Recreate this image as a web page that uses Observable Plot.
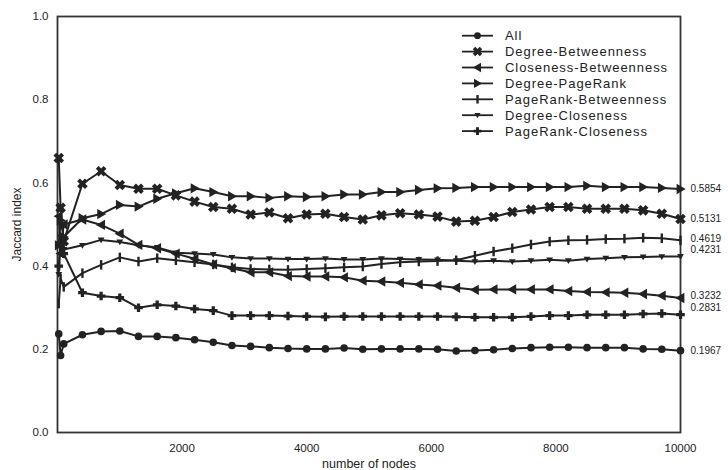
<!DOCTYPE html>
<html><head><meta charset="utf-8">
<script src="https://cdn.jsdelivr.net/npm/d3@7"></script>
<script src="https://cdn.jsdelivr.net/npm/@observablehq/plot@0.6"></script>
<style>body{margin:0;background:#fff;font-family:"Liberation Sans",Arial,sans-serif} #chart svg{display:block}</style>
</head><body><div id="chart"></div><script>
const nodes = [20,50,100,400,700,1000,1300,1600,1900,2200,2500,2800,3100,3400,3700,4000,4300,4600,4900,5200,5500,5800,6100,6400,6700,7000,7300,7600,7900,8200,8500,8800,9100,9400,9700,10000];
const seriesNames = ["All","Degree-Betweenness","Closeness-Betweenness","Degree-PageRank","PageRank-Betweenness","Degree-Closeness","PageRank-Closeness"];
const all = [0.237,0.185,0.213,0.235,0.243,0.244,0.231,0.231,0.228,0.223,0.217,0.209,0.207,0.204,0.202,0.201,0.201,0.203,0.200,0.201,0.201,0.201,0.200,0.196,0.197,0.199,0.202,0.204,0.205,0.205,0.204,0.204,0.204,0.201,0.200,0.1967];
const degBet = [0.66,0.54,0.46,0.598,0.628,0.595,0.586,0.586,0.570,0.555,0.542,0.538,0.524,0.529,0.515,0.524,0.526,0.518,0.512,0.522,0.527,0.524,0.519,0.507,0.509,0.518,0.530,0.536,0.542,0.542,0.538,0.538,0.538,0.534,0.526,0.5131];
const cloBet = [0.52,0.43,0.50,0.512,0.499,0.478,0.451,0.443,0.430,0.4175,0.404,0.395,0.385,0.385,0.376,0.375,0.375,0.373,0.365,0.363,0.360,0.356,0.353,0.348,0.343,0.344,0.344,0.344,0.344,0.340,0.338,0.337,0.336,0.333,0.329,0.3232];
const degPR = [0.45,0.51,0.47,0.515,0.525,0.547,0.543,0.562,0.575,0.587,0.578,0.568,0.568,0.564,0.568,0.566,0.568,0.572,0.572,0.578,0.578,0.583,0.587,0.588,0.590,0.590,0.590,0.590,0.590,0.590,0.593,0.590,0.590,0.590,0.588,0.5854];
const prBet = [0.31,0.37,0.35,0.383,0.403,0.421,0.411,0.419,0.414,0.409,0.404,0.397,0.393,0.392,0.391,0.393,0.395,0.397,0.399,0.405,0.409,0.411,0.412,0.414,0.425,0.435,0.443,0.452,0.459,0.462,0.463,0.465,0.466,0.468,0.467,0.4619];
const degClo = [0.38,0.47,0.44,0.450,0.463,0.458,0.450,0.445,0.432,0.430,0.428,0.421,0.418,0.418,0.417,0.417,0.418,0.416,0.416,0.418,0.417,0.416,0.415,0.413,0.411,0.413,0.411,0.413,0.415,0.413,0.417,0.419,0.421,0.422,0.423,0.4231];
const prClo = [0.40,0.45,0.43,0.336,0.328,0.324,0.300,0.307,0.304,0.297,0.293,0.281,0.281,0.281,0.280,0.279,0.278,0.279,0.279,0.279,0.279,0.279,0.279,0.278,0.277,0.277,0.277,0.279,0.281,0.281,0.283,0.283,0.283,0.285,0.286,0.2831];
const xTicks = [2000,4000,6000,8000,10000];
const yTicks = [0,0.2,0.4,0.6,0.8,1.0];

const values = [all,degBet,cloBet,degPR,prBet,degClo,prClo];
const rows = [];
seriesNames.forEach((s,i)=>values[i].forEach((v,j)=>rows.push({series:s,n:nodes[j],v})));
const finals = seriesNames.map((s,i)=>({series:s,n:nodes[nodes.length-1],v:values[i][values[i].length-1]}));
// end-label nudges (pixels) to keep close labels apart
const nudge = {"PageRank-Betweenness":-2,"Degree-Closeness":-7,"Closeness-Betweenness":-2,"PageRank-Closeness":-7};

// custom marker symbols
const rad = s => Math.sqrt(s/Math.PI);
function poly(c, pts, rot=0){
  const ca=Math.cos(rot), sa=Math.sin(rot);
  pts.forEach(([x,y],i)=>{const X=x*ca-y*sa, Y=x*sa+y*ca; i?c.lineTo(X,Y):c.moveTo(X,Y);});
  c.closePath();
}
function plusPts(r,w){return [[-w,-r],[w,-r],[w,-w],[r,-w],[r,w],[w,w],[w,r],[-w,r],[-w,w],[-r,w],[-r,-w],[-w,-w]];}
const symCircle = {draw(c,s){const r=rad(s); c.moveTo(r,0); c.arc(0,0,r,0,2*Math.PI);}};
const symX = {draw(c,s){const r=rad(s)*1.25; poly(c, plusPts(r, r*0.36), Math.PI/4);}};
const symLeft = {draw(c,s){const r=rad(s)*1.15; poly(c, [[-r,0],[r*0.75,-r],[r*0.75,r]]);}};
const symRight = {draw(c,s){const r=rad(s)*1.15; poly(c, [[r,0],[-r*0.75,-r],[-r*0.75,r]]);}};
const symBar = {draw(c,s){const r=rad(s)*1.1; poly(c, [[-1.2,-r],[1.2,-r],[1.2,r],[-1.2,r]]);}};
const symTri = {draw(c,s){const r=rad(s)*0.85; poly(c, [[-r,-r*0.7],[r,-r*0.7],[0,r]]);}};
const symPlus = {draw(c,s){const r=rad(s)*1.0; poly(c, plusPts(r, r*0.38));}};
const symbols = [symCircle,symX,symLeft,symRight,symBar,symTri,symPlus];
const sizes = [3.8,4.4,4.5,4.5,4.3,4.0,4.3];

const ink = "#222";
const font = "Liberation Sans, Arial, sans-serif";

const marks = [
  Plot.frame({stroke:"#333", strokeWidth:1.8}),
  Plot.axisX({ticks:xTicks, tickSize:0, tickPadding:11, tickFormat:d=>String(d), fontSize:11.5, label:null}),
  Plot.axisX({ticks:[], label:"number of nodes", labelAnchor:"center", labelOffset:35, labelArrow:"none", fontSize:12.5}),
  Plot.axisY({ticks:yTicks, tickSize:0, tickPadding:9, tickFormat:d=>d.toFixed(1), fontSize:11.5, label:null}),
  Plot.axisY({ticks:[], label:"Jaccard index", labelAnchor:"center", labelOffset:45, labelArrow:"none", fontSize:12}),
  Plot.line(rows, {x:"n", y:"v", z:"series", stroke:ink, strokeWidth:2}),
  ...seriesNames.map((s,i)=>Plot.dot(rows.filter(d=>d.series===s), {x:"n", y:"v", symbol:symbols[i], r:sizes[i], fill:ink, stroke:"none"})),
  ...finals.map(f=>Plot.text([f], {x:"n", y:"v", text:d=>d.v.toFixed(4), dx:10, dy:nudge[f.series]||0, textAnchor:"start", fontSize:10, fill:"#222"}))
];

const chart = Plot.plot({
  width:728, height:470,
  marginLeft:57, marginRight:48, marginTop:16, marginBottom:38,
  style:{fontFamily:font, color:"#222", background:"#fff", overflow:"visible"},
  x:{domain:[0,10000]},
  y:{domain:[0,1]},
  marks
});
document.getElementById("chart").append(chart);

// legend (inside the plot, top right)
const svg = d3.select(chart);
const lg = svg.append("g").attr("font-family", font).attr("font-size", 13).attr("fill", ink).attr("text-anchor","start");
seriesNames.forEach((s,i)=>{
  const y = 35.7 + i*15.9;
  lg.append("line").attr("x1",462).attr("x2",493).attr("y1",y).attr("y2",y).attr("stroke",ink).attr("stroke-width",1.8);
  const p = d3.path(); symbols[i].draw(p, sizes[i]*sizes[i]*Math.PI*0.8);
  lg.append("path").attr("d", p.toString()).attr("transform",`translate(477.5,${y})`).attr("fill",ink);
  lg.append("text").attr("x",505).attr("y",y).attr("dy","0.35em").attr("letter-spacing","0.95px").text(s);
});
</script></body></html>
